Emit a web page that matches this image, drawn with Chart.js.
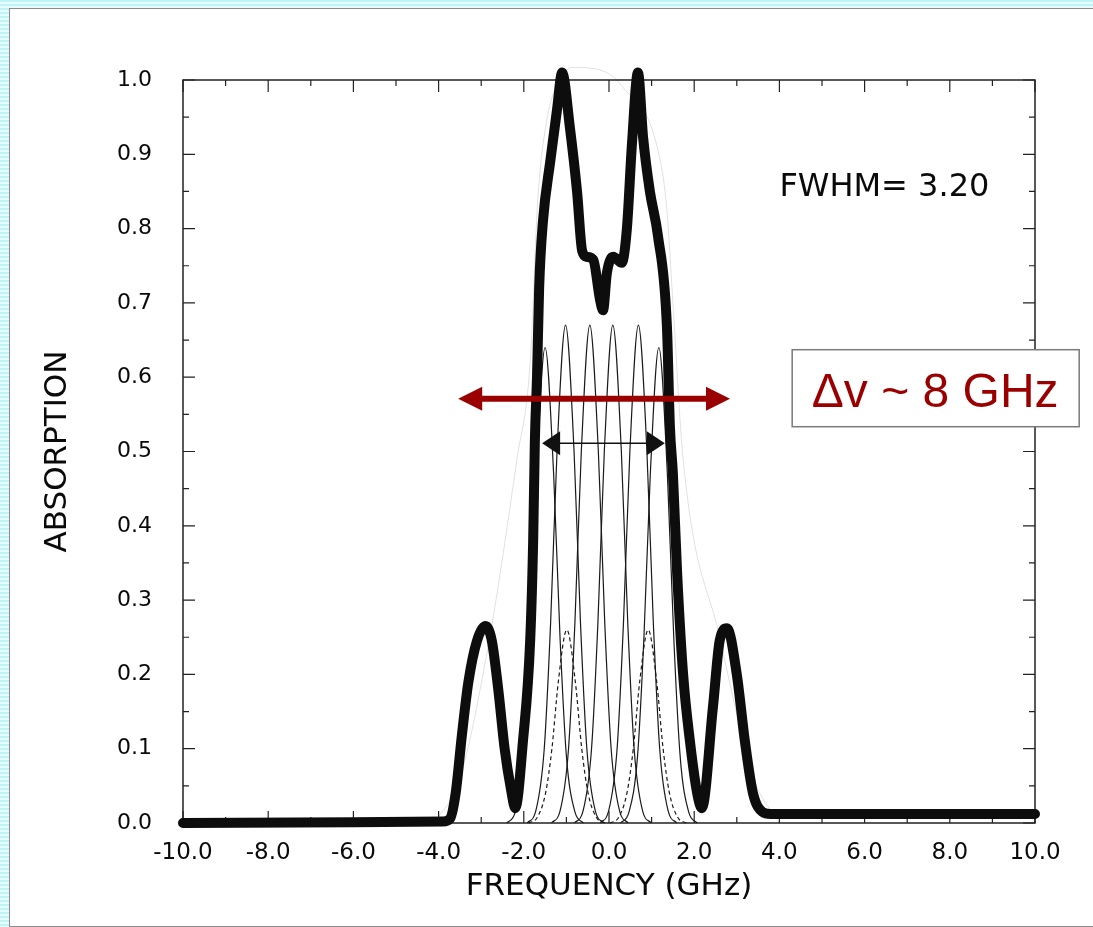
<!DOCTYPE html>
<html>
<head>
<meta charset="utf-8">
<script src="https://cdn.jsdelivr.net/npm/chart.js@4.4.1/dist/chart.umd.min.js"></script>
<style>
  html, body { margin: 0; padding: 0; }
  body {
    width: 1093px; height: 927px; overflow: hidden; position: relative;
    background: repeating-linear-gradient(180deg, #bff4f7 0px, #bff4f7 2px, #e8fbfc 2px, #e8fbfc 4px);
  }
  #panel {
    position: absolute; left: 9px; top: 8px; width: 1100px; height: 917px;
    background: #fff; border: 1px solid #8c8c8c; border-right: none;
  }
  #wrap { position: absolute; left: 0; top: 0; width: 1093px; height: 927px; }
</style>
</head>
<body>
<div id="panel"></div>
<div id="wrap"><canvas id="spectrum" width="1093" height="927"></canvas></div>
<script>
// axis ticks
const xTickValues = [-10, -8, -6, -4, -2, 0, 2, 4, 6, 8, 10];
const xTickLabels = ['-10.0', '-8.0', '-6.0', '-4.0', '-2.0', '0.0', '2.0', '4.0', '6.0', '8.0', '10.0'];
const yTickValues = [0, 0.1, 0.2, 0.3, 0.4, 0.5, 0.6, 0.7, 0.8, 0.9, 1.0];
const yTickLabels = ['0.0', '0.1', '0.2', '0.3', '0.4', '0.5', '0.6', '0.7', '0.8', '0.9', '1.0'];
const xTitle = 'FREQUENCY (GHz)';
const yTitle = 'ABSORPTION';

// total absorption (thick line)
const freqTotal = [-10, -6, -3.9, -3.73, -3.6, -3.45, -3.3, -3.1, -2.9, -2.75, -2.6, -2.45, -2.3, -2.2,
  -2.02, -1.85, -1.78, -1.74, -1.69, -1.64, -1.55, -1.38, -1.22, -1.1, -0.92, -0.75, -0.63, -0.52, -0.37,
  -0.21, -0.14, -0.05, 0.1, 0.3, 0.42, 0.54, 0.68, 0.8, 0.96, 1.15, 1.36, 1.43, 1.5, 1.6, 1.74, 1.9, 2.07,
  2.18, 2.44, 2.6, 2.77, 3.0, 3.19, 3.38, 3.6, 3.8, 6, 10];
const absTotal = [0, 0.001, 0.002, 0.006, 0.04, 0.12, 0.19, 0.245, 0.265, 0.245, 0.18, 0.1, 0.045, 0.02,
  0.11, 0.246, 0.38, 0.515, 0.6, 0.72, 0.81, 0.89, 0.96, 1.01, 0.937, 0.85, 0.77, 0.762, 0.758,
  0.704, 0.69, 0.74, 0.762, 0.754, 0.80, 0.915, 1.01, 0.923, 0.85, 0.79, 0.668, 0.533, 0.47, 0.336, 0.20, 0.11, 0.04,
  0.02, 0.156, 0.246, 0.262, 0.20, 0.11, 0.04, 0.015, 0.012, 0.012, 0.012];

// single hyperfine components (thin solid lines)
const freqCompA = [-2.4, -2.2, -2.0, -1.85, -1.7, -1.5, -1.3, -1.15, -1.0, -0.8, -0.6];
const absCompA = [0, 0.015, 0.09, 0.25, 0.47, 0.64, 0.47, 0.25, 0.09, 0.015, 0];
const freqCompB = [-1.92, -1.72, -1.52, -1.37, -1.22, -1.02, -0.82, -0.67, -0.52, -0.32, -0.12];
const absCompB = [0, 0.016, 0.1, 0.27, 0.5, 0.67, 0.5, 0.27, 0.1, 0.016, 0];
const freqCompC = [-1.35, -1.15, -0.95, -0.8, -0.65, -0.45, -0.25, -0.1, 0.05, 0.25, 0.45];
const absCompC = [0, 0.016, 0.1, 0.27, 0.5, 0.67, 0.5, 0.27, 0.1, 0.016, 0];
const freqCompD = [-0.81, -0.61, -0.41, -0.26, -0.11, 0.09, 0.29, 0.44, 0.59, 0.79, 0.99];
const absCompD = [0, 0.016, 0.1, 0.27, 0.5, 0.67, 0.5, 0.27, 0.1, 0.016, 0];
const freqCompE = [-0.21, -0.01, 0.19, 0.34, 0.49, 0.69, 0.89, 1.04, 1.19, 1.39, 1.59];
const absCompE = [0, 0.016, 0.1, 0.27, 0.5, 0.67, 0.5, 0.27, 0.1, 0.016, 0];
const freqCompF = [0.27, 0.47, 0.67, 0.82, 0.97, 1.17, 1.37, 1.52, 1.67, 1.87, 2.07];
const absCompF = [0, 0.015, 0.09, 0.25, 0.47, 0.64, 0.47, 0.25, 0.09, 0.015, 0];

// weak components (dashed)
const freqWeakA = [-1.89, -1.69, -1.49, -1.34, -1.19, -0.99, -0.79, -0.64, -0.49, -0.29, -0.09];
const absWeakA = [0, 0.007, 0.04, 0.1, 0.19, 0.26, 0.19, 0.1, 0.04, 0.007, 0];
const freqWeakB = [0.02, 0.22, 0.42, 0.57, 0.72, 0.92, 1.12, 1.27, 1.42, 1.62, 1.82];
const absWeakB = [0, 0.007, 0.04, 0.1, 0.19, 0.26, 0.19, 0.1, 0.04, 0.007, 0];

// faint broad envelope
const freqEnv = [-4.1, -3.5, -2.8, -2.16, -1.85, -1.67, -1.46, -1.15, -0.85, -0.05, 0.33, 1.13, 1.36, 1.5, 1.74, 2.6, 3.4, 4.0];
const absEnv = [0, 0.06, 0.25, 0.49, 0.62, 0.84, 0.946, 1.0, 1.017, 1.01, 0.99, 0.91, 0.825, 0.7, 0.49, 0.25, 0.06, 0];

// annotations
const fwhmText = 'FWHM= 3.20';
const fwhmArrow = { from: -1.57, to: 1.31, y: 0.511 };
const spanArrow = { from: -3.54, to: 2.84, y: 0.571 };
const spanText = 'Δv ~ 8 GHz';

function pts(xs, ys) {
  return xs.map((x, i) => ({ x: x, y: ys[i] }));
}

function thin(label, xs, ys, dash) {
  return {
    label: label,
    data: pts(xs, ys),
    borderColor: '#1a1a1a',
    borderWidth: 1.2,
    borderDash: dash || [],
    cubicInterpolationMode: 'monotone',
    clip: false
  };
}

function arrowHead(ctx, x, y, dir, len, half) {
  ctx.beginPath();
  ctx.moveTo(x, y);
  ctx.lineTo(x - dir * len, y - half);
  ctx.lineTo(x - dir * len, y + half);
  ctx.closePath();
  ctx.fill();
}

const frameTicks = {
  id: 'frameTicks',
  beforeDatasetsDraw(chart) {
    const { ctx, chartArea: a, scales: { x, y } } = chart;
    ctx.save();
    ctx.strokeStyle = '#222';
    ctx.lineWidth = 1.5;
    ctx.strokeRect(a.left, a.top, a.right - a.left, a.bottom - a.top);
    ctx.lineWidth = 1.2;
    ctx.beginPath();
    for (let i = -10; i <= 10; i++) {
      const px = x.getPixelForValue(i);
      const len = i % 2 === 0 ? 12 : 6;
      ctx.moveTo(px, a.bottom); ctx.lineTo(px, a.bottom - len);
      ctx.moveTo(px, a.top); ctx.lineTo(px, a.top + len);
    }
    for (let j = 0; j <= 20; j++) {
      const py = y.getPixelForValue(j * 0.05);
      const len = j % 2 === 0 ? 12 : 6;
      ctx.moveTo(a.left, py); ctx.lineTo(a.left + len, py);
      ctx.moveTo(a.right, py); ctx.lineTo(a.right - len, py);
    }
    ctx.stroke();
    ctx.restore();
  }
};

const annotations = {
  id: 'annotations',
  afterDatasetsDraw(chart) {
    const { ctx, scales: { x, y } } = chart;
    ctx.save();

    // FWHM arrow
    let x1 = x.getPixelForValue(fwhmArrow.from), x2 = x.getPixelForValue(fwhmArrow.to);
    let py = y.getPixelForValue(fwhmArrow.y);
    ctx.strokeStyle = '#111';
    ctx.fillStyle = '#111';
    ctx.lineWidth = 1.5;
    ctx.beginPath(); ctx.moveTo(x1 + 10, py); ctx.lineTo(x2 - 10, py); ctx.stroke();
    arrowHead(ctx, x1, py, -1, 18, 12);
    arrowHead(ctx, x2, py, 1, 18, 12);

    // red span arrow
    x1 = x.getPixelForValue(spanArrow.from); x2 = x.getPixelForValue(spanArrow.to);
    py = y.getPixelForValue(spanArrow.y);
    ctx.strokeStyle = '#9b0000';
    ctx.fillStyle = '#9b0000';
    ctx.lineWidth = 6;
    ctx.beginPath(); ctx.moveTo(x1 + 20, py); ctx.lineTo(x2 - 20, py); ctx.stroke();
    arrowHead(ctx, x1, py, -1, 24, 12);
    arrowHead(ctx, x2, py, 1, 24, 12);

    // FWHM label
    ctx.fillStyle = '#0a0a0a';
    ctx.font = '32px "DejaVu Sans"';
    ctx.textAlign = 'left';
    ctx.textBaseline = 'alphabetic';
    ctx.fillText(fwhmText, x.getPixelForValue(4.0), y.getPixelForValue(0.844));

    // boxed span label
    const bx = x.getPixelForValue(4.3), by = y.getPixelForValue(0.637);
    ctx.fillStyle = '#fff';
    ctx.fillRect(bx, by, 287, 77);
    ctx.strokeStyle = '#7a7a7a';
    ctx.lineWidth = 1.5;
    ctx.strokeRect(bx, by, 287, 77);
    ctx.fillStyle = '#9b0000';
    ctx.font = '48px "Liberation Sans", Arial, sans-serif';
    ctx.textAlign = 'center';
    ctx.fillText(spanText, bx + 143, by + 57);
    ctx.restore();
  }
};

const ctx = document.getElementById('spectrum').getContext('2d');
const spectrumChart = new Chart(ctx, {
  type: 'line',
  plugins: [frameTicks, annotations],
  data: {
    datasets: [
      {
        label: 'Total',
        data: pts(freqTotal, absTotal),
        borderColor: '#0d0d0d',
        borderWidth: 10,
        borderCapStyle: 'round',
        borderJoinStyle: 'round',
        cubicInterpolationMode: 'monotone',
        clip: false
      },
      thin('A', freqCompA, absCompA),
      thin('B', freqCompB, absCompB),
      thin('C', freqCompC, absCompC),
      thin('D', freqCompD, absCompD),
      thin('E', freqCompE, absCompE),
      thin('F', freqCompF, absCompF),
      thin('weak A', freqWeakA, absWeakA, [4, 3]),
      thin('weak B', freqWeakB, absWeakB, [4, 3]),
      {
        label: 'Envelope',
        data: pts(freqEnv, absEnv),
        borderColor: 'rgba(0,0,0,0.12)',
        borderWidth: 1,
        cubicInterpolationMode: 'monotone',
        clip: false
      }
    ]
  },
  options: {
    responsive: false,
    animation: false,
    events: [],
    layout: { padding: { top: 80, right: 58, left: 0, bottom: 0 } },
    elements: { point: { radius: 0 } },
    plugins: {
      legend: { display: false },
      tooltip: { enabled: false }
    },
    scales: {
      x: {
        type: 'linear',
        min: -10,
        max: 10,
        grid: { display: false, drawTicks: false },
        border: { display: false },
        afterBuildTicks: function(scale) {
          scale.ticks = xTickValues.map(v => ({ value: v }));
        },
        afterFit: function(scale) {
          scale.height = 104;
        },
        ticks: {
          padding: 16,
          color: '#0a0a0a',
          maxRotation: 0,
          autoSkip: false,
          font: { family: 'DejaVu Sans', size: 23 },
          callback: function(value, index) {
            return xTickLabels[index];
          }
        },
        title: {
          display: true,
          text: xTitle,
          color: '#0a0a0a',
          font: { family: 'DejaVu Sans', size: 31 },
          padding: { top: 0, bottom: 21 }
        }
      },
      y: {
        type: 'linear',
        min: 0,
        max: 1,
        grid: { display: false, drawTicks: false },
        border: { display: false },
        afterBuildTicks: function(scale) {
          scale.ticks = yTickValues.map(v => ({ value: v }));
        },
        afterFit: function(scale) {
          scale.width = 183;
        },
        ticks: {
          padding: 31,
          color: '#0a0a0a',
          font: { family: 'DejaVu Sans', size: 22 },
          callback: function(value, index) {
            return yTickLabels[index];
          }
        },
        title: {
          display: true,
          text: yTitle,
          color: '#0a0a0a',
          font: { family: 'DejaVu Sans', size: 31 },
          padding: { top: 39, bottom: 0 }
        }
      }
    }
  }
});
</script>
</body>
</html>
